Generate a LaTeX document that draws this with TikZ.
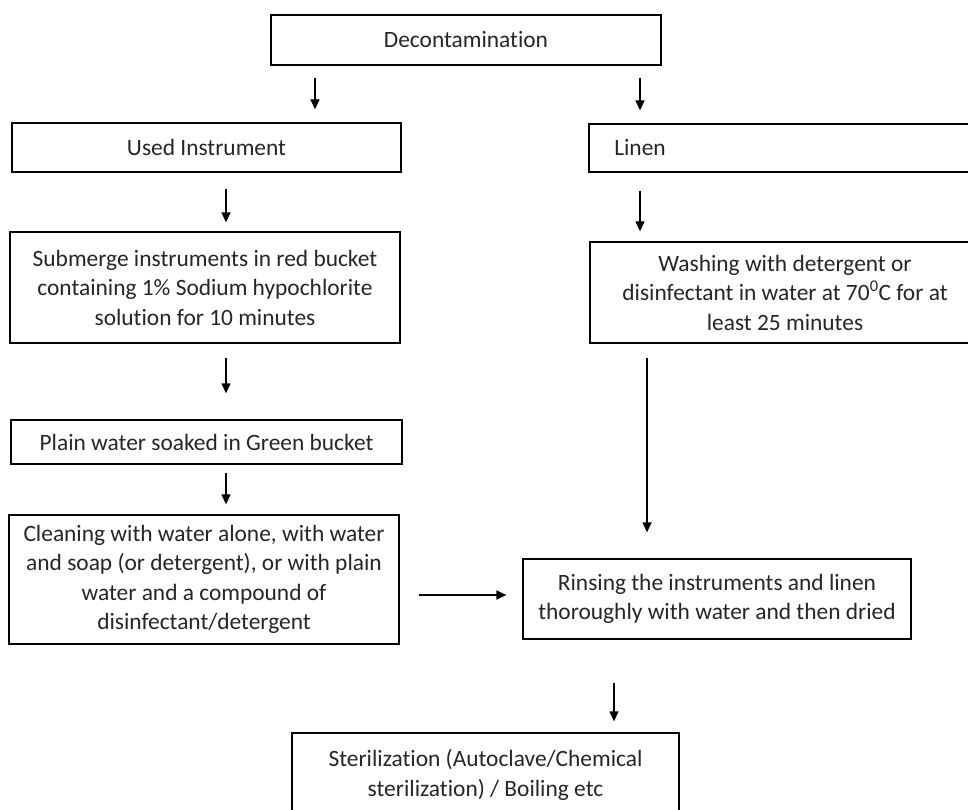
\documentclass[tikz,border=0pt]{standalone}
\usepackage{fontspec}
\setmainfont{Carlito}[Ligatures=NoCommon]
\usetikzlibrary{arrows.meta}
\definecolor{txt}{HTML}{262626}
\begin{document}
\begin{tikzpicture}[x=1pt,y=-1pt,
  box/.style={draw=black,line width=1.3pt,rectangle,inner sep=0pt,align=center,
    text=txt,font=\fontsize{23.4}{29.5}\selectfont},
  lbl/.style={inner sep=0pt,align=center,text=txt,font=\fontsize{23.4}{29.5}\selectfont},
  arr/.style={line width=1.3pt,-{Triangle[width=9pt,length=10pt]}}]
\clip (0,0) rectangle (968,810);
\fill[white] (0,0) rectangle (968,810);
% boxes
\node[box,minimum width=390,minimum height=50] (dec) at (466,40) {Decontamination};
\node[box,minimum width=389,minimum height=49] (used) at (206.5,147.5) {Used Instrument};
\node[box,minimum width=391,minimum height=48] (linen) at (784.5,148) {};
\node[lbl] (linentxt) at (640,148) {Linen};
\node[box,minimum width=390,minimum height=111] (sub) at (205,287.5)
  {Submerge instruments in red bucket\\containing 1\% Sodium hypochlorite\\solution for 10 minutes};
\node[box,minimum width=390,minimum height=101] (wash) at (785,292.5)
  {Washing with detergent or\\disinfectant in water at 70\textsuperscript{0}C for at\\least 25 minutes};
\node[box,minimum width=391,minimum height=44] (plain) at (206.5,442) {Plain water soaked in Green bucket};
\node[box,minimum width=390,minimum height=129] (clean) at (204,579.5)
  {Cleaning with water alone, with water\\and soap (or detergent), or with plain\\water and a compound of\\disinfectant/detergent};
\node[box,minimum width=388,minimum height=80] (rinse) at (717,599)
  {Rinsing the instruments and linen\\thoroughly with water and then dried};
\node[box,minimum width=387,minimum height=84] (steril) at (485.5,775)
  {Sterilization (Autoclave/Chemical\\sterilization) / Boiling etc};
% column coordinates
\coordinate (cL) at (315,0);
\coordinate (cR) at (640,0);
\coordinate (cS) at (226,0);
\coordinate (cW) at (647,0);
\coordinate (cF) at (614,0);
\coordinate (rH) at (0,595);
% arrows
\draw[arr,shorten <=12pt,shorten >=13pt] (dec.south -| cL) -- (used.north -| cL);
\draw[arr,shorten <=12pt,shorten >=13pt] (dec.south -| cR) -- (linen.north -| cR);
\draw[arr,shorten <=16pt,shorten >=9pt] (used.south -| cS) -- (sub.north -| cS);
\draw[arr,shorten <=18pt,shorten >=10pt] (linen.south -| cR) -- (wash.north -| cR);
\draw[arr,shorten <=14pt,shorten >=26pt] (sub.south -| cS) -- (plain.north -| cS);
\draw[arr,shorten <=8pt,shorten >=10pt] (plain.south -| cS) -- (clean.north -| cS);
\draw[arr,shorten <=14pt,shorten >=26pt] (wash.south -| cW) -- (rinse.north -| cW);
\draw[arr,shorten <=19pt,shorten >=16pt] (clean.east |- rH) -- (rinse.west |- rH);
\draw[arr,shorten <=43pt,shorten >=11pt] (rinse.south -| cF) -- (steril.north -| cF);
\end{tikzpicture}
\end{document}
